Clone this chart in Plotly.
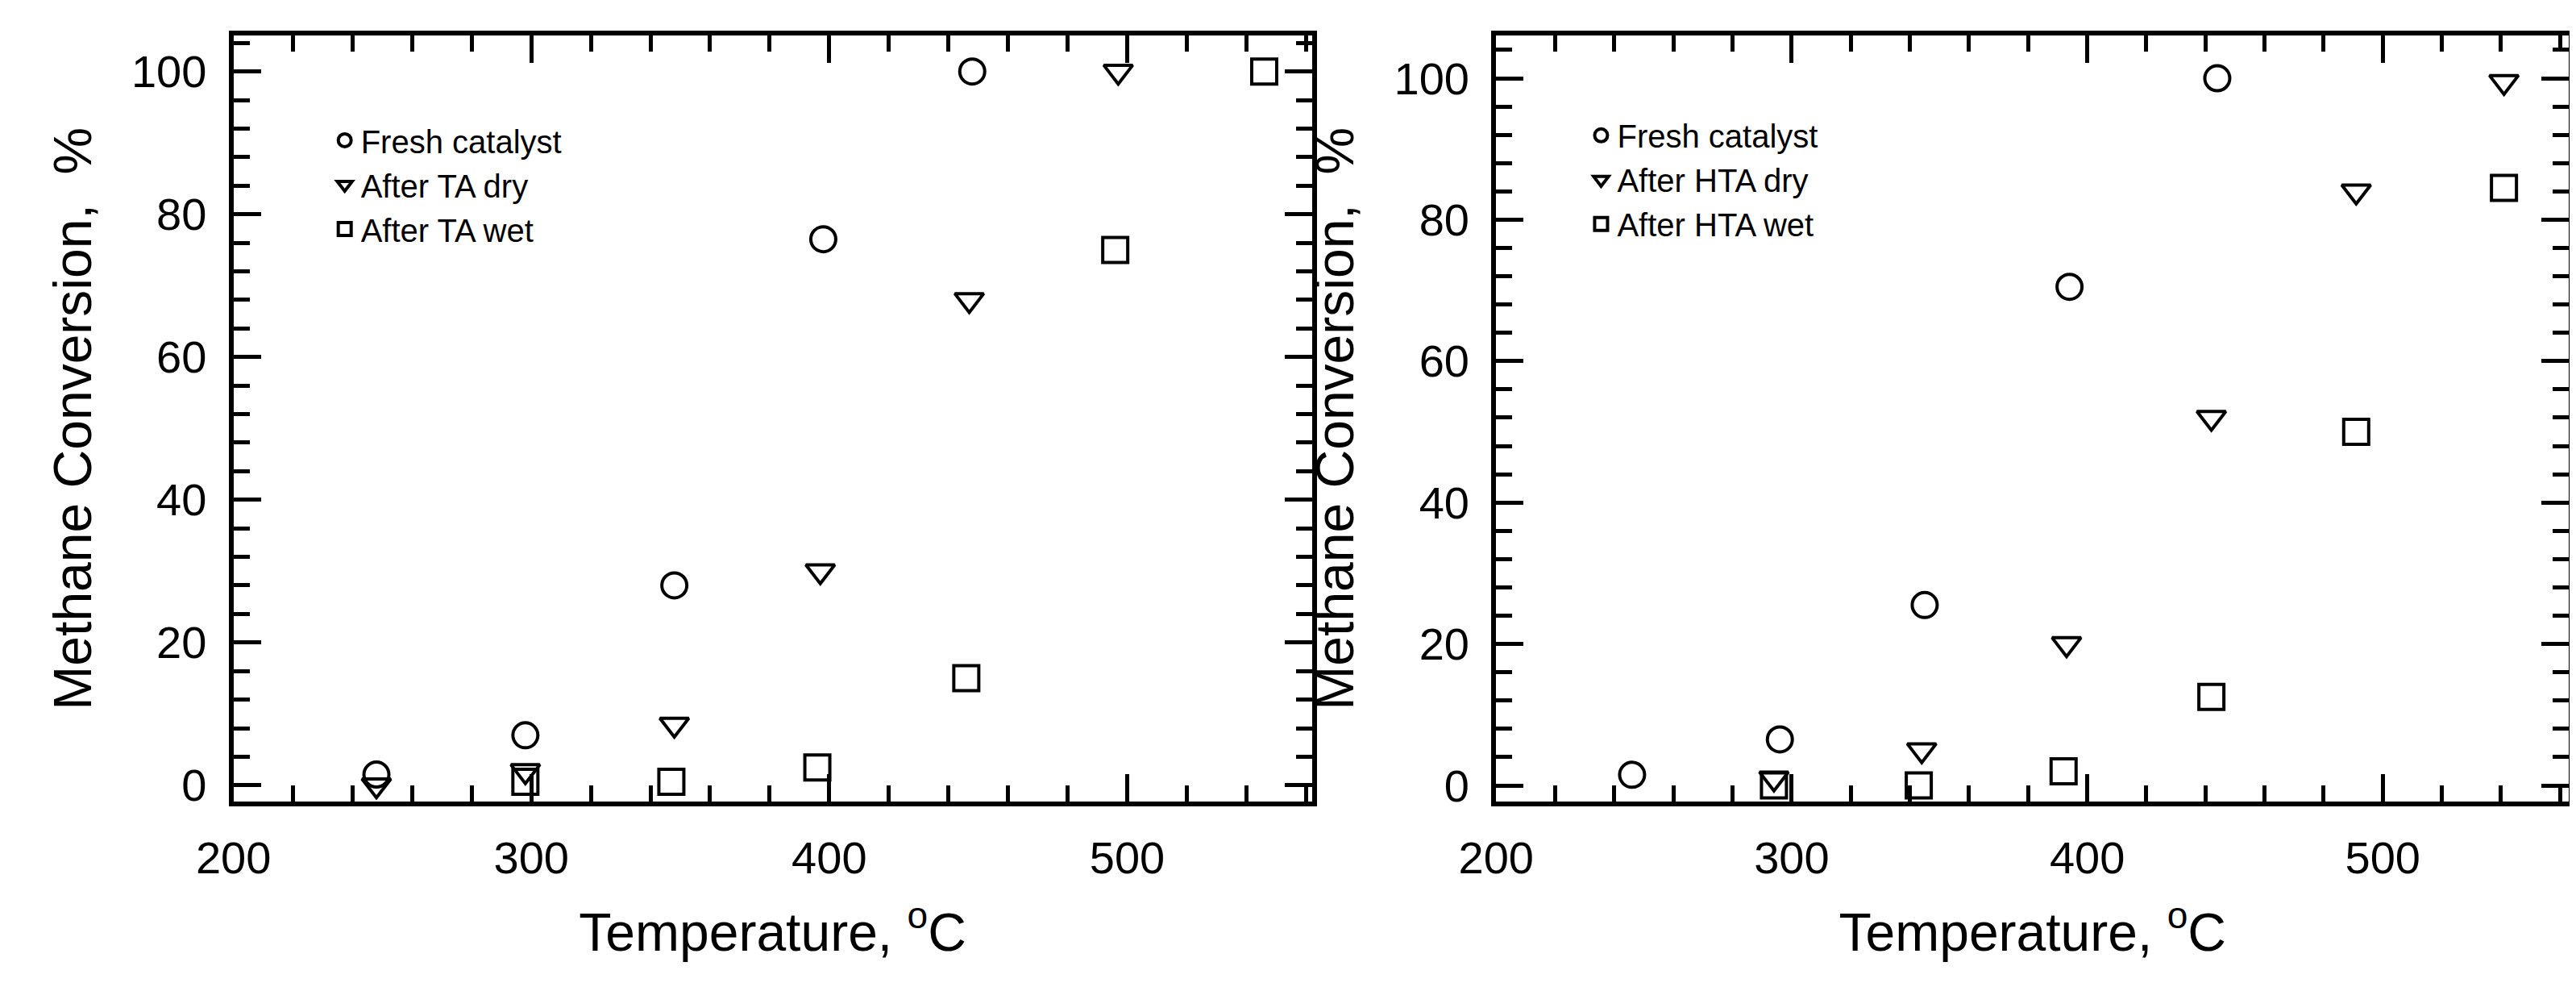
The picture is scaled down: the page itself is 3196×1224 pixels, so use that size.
import plotly.graph_objects as go
from plotly.subplots import make_subplots

# left panel (TA)
fresh_l_x = [248, 298, 348, 398, 448]
fresh_l_y = [1.5, 7, 28, 76.5, 100]
dry_l_x = [248, 298, 348, 397, 447, 497]
dry_l_y = [0, 2, 8.5, 30, 68, 100]
wet_l_x = [298, 347, 396, 446, 496, 546]
wet_l_y = [0.5, 0.5, 2.5, 15, 75, 100]

# right panel (HTA)
fresh_r_x = [246, 296, 345, 394, 444]
fresh_r_y = [1.5, 6.5, 25.5, 70.5, 100]
dry_r_x = [294, 344, 393, 442, 491, 541]
dry_r_y = [1, 5, 20, 52, 84, 99.5]
wet_r_x = [294, 343, 392, 442, 491, 541]
wet_r_y = [0, 0, 2, 12.5, 50, 84.5]

names_l = ["Fresh catalyst", "After TA dry", "After TA wet"]
names_r = ["Fresh catalyst", "After HTA dry", "After HTA wet"]
symbols = ["circle-open", "triangle-down-open", "square-open"]

fig = make_subplots(rows=1, cols=2)

def add(xs, ys, name, sym, col, leg):
    fig.add_trace(go.Scatter(x=xs, y=ys, mode="markers", name=name, legend=leg,
                             marker=dict(symbol=sym, size=31, color="black",
                                         line=dict(width=4, color="black"))),
                  row=1, col=col)

for xs, ys, n, s in zip([fresh_l_x, dry_l_x, wet_l_x], [fresh_l_y, dry_l_y, wet_l_y], names_l, symbols):
    add(xs, ys, n, s, 1, "legend")
for xs, ys, n, s in zip([fresh_r_x, dry_r_x, wet_r_x], [fresh_r_y, dry_r_y, wet_r_y], names_r, symbols):
    add(xs, ys, n, s, 2, "legend2")

font = dict(family="Liberation Sans Narrow, Liberation Sans, Arial", color="black")
axis_common = dict(showline=True, linewidth=6, linecolor="black", mirror="allticks",
                   ticks="inside", ticklen=34, tickwidth=5, tickcolor="black",
                   showgrid=False, zeroline=False, tickfont=dict(size=56, **font),
                   ticklabelstandoff=16)
xaxis_common = dict(axis_common, dtick=100, tick0=200,
                    minor=dict(dtick=20, ticks="inside", ticklen=20, tickwidth=5, tickcolor="black"),
                    title=dict(text="Temperature, <sup>o</sup>C", font=dict(size=66, **font), standoff=40))
yaxis_common = dict(axis_common, dtick=20, tick0=0,
                    minor=dict(dtick=4, ticks="inside", ticklen=20, tickwidth=5, tickcolor="black"),
                    title=dict(text="Methane Conversion,  %", font=dict(size=66, **font), standoff=30))

fig.update_xaxes(xaxis_common)
fig.update_yaxes(yaxis_common)
fig.update_layout(
    xaxis=dict(domain=[0.0745, 0.4994], range=[200, 562]),
    xaxis2=dict(domain=[0.572, 0.9947], range=[200, 563]),
    yaxis=dict(domain=[0.187, 0.97], range=[-2.3, 105]),
    yaxis2=dict(domain=[0.187, 0.97], range=[-2.3, 106]),
    width=3196, height=1224, margin=dict(l=0, r=0, t=0, b=0),
    paper_bgcolor="white", plot_bgcolor="white",
    legend=dict(x=0.112, y=0.89, xanchor="left", yanchor="top", bgcolor="rgba(0,0,0,0)",
                font=dict(size=40, **font), itemwidth=30, tracegroupgap=0, itemsizing="trace"),
    legend2=dict(x=0.607, y=0.895, xanchor="left", yanchor="top", bgcolor="rgba(0,0,0,0)",
                 font=dict(size=40, **font), itemwidth=30, tracegroupgap=0, itemsizing="trace"),
)

fig.write_html("out.html")
